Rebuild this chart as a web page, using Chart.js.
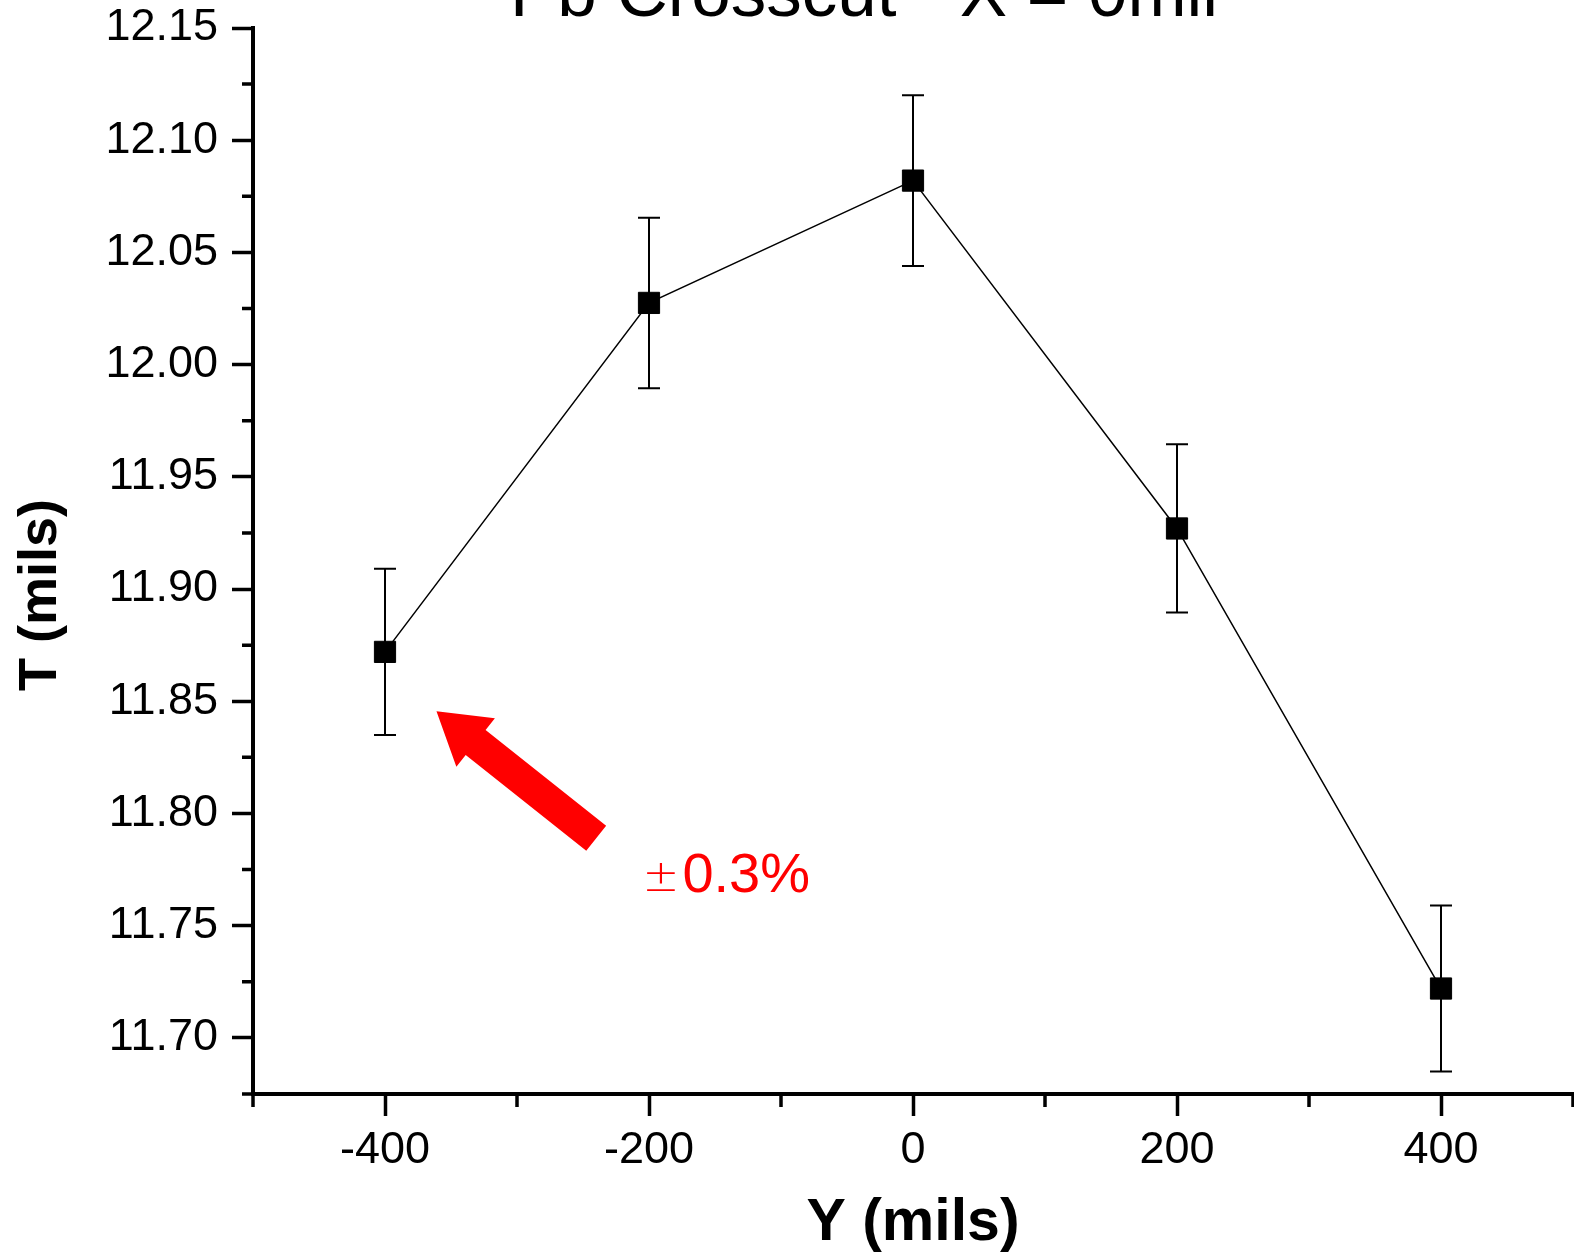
<!DOCTYPE html>
<html>
<head>
<meta charset="utf-8">
<script src="https://cdn.jsdelivr.net/npm/chart.js@4.4.1/dist/chart.umd.min.js"></script>
<style>
  html, body { margin: 0; padding: 0; background: #fff; }
  #wrap { width: 1574px; height: 1254px; position: relative; }
</style>
</head>
<body>
<div id="wrap"><canvas id="myChart"></canvas></div>
<script>
// Y position across the part (mils)
const yPositions = [-400, -200, 0, 200, 400];
// measured thickness T (mils)
const thickness = [11.872, 12.0275, 12.082, 11.927, 11.722];
// error bar half-height (mils), about 0.3%
const thicknessErr = [0.037, 0.038, 0.038, 0.0375, 0.037];

const xMajorTicks = [-400, -200, 0, 200, 400];
const xMinorTicks = [-500, -300, -100, 100, 300, 500];
const yMajorTicks = [11.70, 11.75, 11.80, 11.85, 11.90, 11.95, 12.00, 12.05, 12.10, 12.15];
const yMinorTicks = [11.675, 11.725, 11.775, 11.825, 11.875, 11.925, 11.975, 12.025, 12.075, 12.125];

const chartTitle = "Pb Crosscut - X = 0mil";
const xTitle = "Y (mils)";
const yTitle = "T (mils)";
const notePlusMinus = "\u00b1";
const noteText = "0.3%";
// annotation anchors, in data units
const arrowTip = [-361, 11.8455];
const arrowTail = [-240, 11.789];
const noteAt = [-205, 11.765];

const FONT = '"Liberation Sans", Arial, Helvetica, sans-serif';
Chart.defaults.font.family = FONT;

const errorBars = {
  id: 'errorBars',
  beforeDatasetsDraw(chart) {
    const ctx = chart.ctx;
    const xs = chart.scales.x;
    const ys = chart.scales.y;
    ctx.save();
    ctx.strokeStyle = '#000';
    ctx.lineWidth = 2;
    ctx.beginPath();
    yPositions.forEach((p, i) => {
      const x = xs.getPixelForValue(p);
      const top = ys.getPixelForValue(thickness[i] + thicknessErr[i]);
      const bot = ys.getPixelForValue(thickness[i] - thicknessErr[i]);
      ctx.moveTo(x, top); ctx.lineTo(x, bot);
      ctx.moveTo(x - 11, top); ctx.lineTo(x + 11, top);
      ctx.moveTo(x - 11, bot); ctx.lineTo(x + 11, bot);
    });
    ctx.stroke();
    ctx.restore();
  }
};

const extras = {
  id: 'extras',
  afterDraw(chart) {
    const ctx = chart.ctx;
    const xs = chart.scales.x;
    const ys = chart.scales.y;
    const a = chart.chartArea;
    ctx.save();

    // minor ticks
    ctx.strokeStyle = '#000';
    ctx.lineWidth = 3.5;
    ctx.beginPath();
    xMinorTicks.forEach(v => {
      const x = xs.getPixelForValue(v);
      ctx.moveTo(x, a.bottom);
      ctx.lineTo(x, a.bottom + 13);
    });
    yMinorTicks.forEach(v => {
      const y = ys.getPixelForValue(v);
      ctx.moveTo(a.left, y);
      ctx.lineTo(a.left - 11, y);
    });
    ctx.stroke();

    // title, cut off by the top edge like the scan
    ctx.fillStyle = '#000';
    ctx.font = '71px ' + FONT;
    ctx.textAlign = 'center';
    ctx.textBaseline = 'alphabetic';
    ctx.fillText(chartTitle, 864, 16);

    // y axis title
    ctx.save();
    ctx.translate(41, 595);
    ctx.rotate(-Math.PI / 2);
    ctx.font = 'bold 54px ' + FONT;
    ctx.textBaseline = 'middle';
    ctx.fillText(yTitle, 0, 0);
    ctx.restore();

    // red arrow
    const tx = xs.getPixelForValue(arrowTip[0]), ty = ys.getPixelForValue(arrowTip[1]);
    const bx = xs.getPixelForValue(arrowTail[0]), by = ys.getPixelForValue(arrowTail[1]);
    const len = Math.hypot(tx - bx, ty - by);
    const ux = (tx - bx) / len, uy = (ty - by) / len;
    const nx = -uy, ny = ux;
    const headLen = 50, headHalf = 31, shaftHalf = 16;
    const cx = tx - ux * headLen, cy = ty - uy * headLen;
    ctx.fillStyle = '#ff0000';
    ctx.beginPath();
    ctx.moveTo(bx + nx * shaftHalf, by + ny * shaftHalf);
    ctx.lineTo(cx + nx * shaftHalf, cy + ny * shaftHalf);
    ctx.lineTo(cx + nx * headHalf, cy + ny * headHalf);
    ctx.lineTo(tx, ty);
    ctx.lineTo(cx - nx * headHalf, cy - ny * headHalf);
    ctx.lineTo(cx - nx * shaftHalf, cy - ny * shaftHalf);
    ctx.lineTo(bx - nx * shaftHalf, by - ny * shaftHalf);
    ctx.closePath();
    ctx.fill();

    // +-0.3% note
    const nxp = xs.getPixelForValue(noteAt[0]);
    const nyp = ys.getPixelForValue(noteAt[1]);
    ctx.textAlign = 'left';
    ctx.textBaseline = 'alphabetic';
    ctx.font = '200 44px "DejaVu Sans", ' + FONT;
    ctx.fillText(notePlusMinus, nxp, nyp - 1);
    ctx.font = '56px ' + FONT;
    ctx.fillText(noteText, nxp + 40, nyp);

    ctx.restore();
  }
};

new Chart(document.getElementById('myChart'), {
  type: 'line',
  data: {
    datasets: [{
      data: yPositions.map((x, i) => ({ x: x, y: thickness[i] })),
      borderColor: '#000',
      borderWidth: 1.5,
      pointStyle: 'rect',
      pointRadius: 15,
      pointBackgroundColor: '#000',
      pointBorderColor: '#000',
      pointBorderWidth: 1,
      tension: 0,
      clip: false
    }]
  },
  options: {
    responsive: true,
    maintainAspectRatio: false,
    animation: false,
    layout: { autoPadding: false, padding: { top: 28, right: 1, left: 0, bottom: 0 } },
    plugins: {
      legend: { display: false },
      tooltip: { enabled: false },
      title: { display: false }
    },
    scales: {
      x: {
        type: 'linear',
        min: -500,
        max: 500,
        afterBuildTicks: s => { s.ticks = xMajorTicks.map(v => ({ value: v })); },
        afterFit: s => {
          s.height = 160;
          s.paddingLeft = 0;
          s.paddingRight = 0;
        },
        grid: { drawOnChartArea: false, tickLength: 22, tickWidth: 3.5, tickColor: '#000' },
        border: { display: true, color: '#000', width: 4 },
        ticks: {
          color: '#000',
          font: { size: 45 },
          padding: 8,
          autoSkip: false,
          maxRotation: 0,
          callback: v => String(v)
        },
        title: {
          display: true,
          text: xTitle,
          color: '#000',
          font: { size: 59, weight: 'bold', lineHeight: 1.02 },
          padding: 0
        }
      },
      y: {
        type: 'linear',
        min: 11.675,
        max: 12.15,
        afterBuildTicks: s => { s.ticks = yMajorTicks.map(v => ({ value: v })); },
        afterFit: s => {
          s.width = 253;
          s.paddingTop = 0;
          s.paddingBottom = 0;
        },
        grid: { drawOnChartArea: false, tickLength: 21, tickWidth: 3.5, tickColor: '#000' },
        border: { display: true, color: '#000', width: 4 },
        ticks: {
          color: '#000',
          font: { size: 45 },
          padding: 14,
          autoSkip: false,
          callback: v => v.toFixed(2)
        }
      }
    }
  },
  plugins: [errorBars, extras]
});
</script>
</body>
</html>
